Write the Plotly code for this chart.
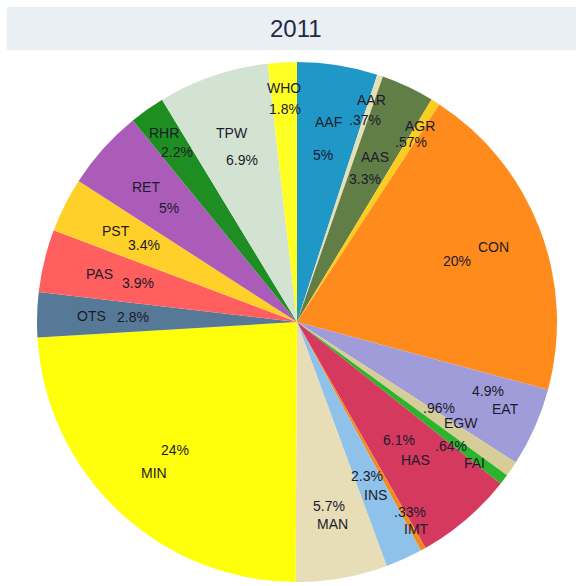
import math
import plotly.graph_objects as go

# Share of total by sector code, 2011 (percent)
sectors = ["AAF", "AAR", "AAS", "AGR", "CON", "EAT", "EGW", "FAI", "HAS", "IMT",
           "INS", "MAN", "MIN", "OTS", "PAS", "PST", "RET", "RHR", "TPW", "WHO"]
shares = [5, 0.37, 3.3, 0.57, 20, 4.9, 0.96, 0.64, 6.1, 0.33,
          2.3, 5.7, 24, 2.8, 3.9, 3.4, 5, 2.2, 6.9, 1.8]
colors = ["#1f98c8", "#e8dfb6", "#617e46", "#fbcd1f", "#fe8b1c", "#a09cda",
          "#d6cd97", "#2cb42c", "#d6395e", "#f28a22", "#8fc2ea", "#e7ddb6",
          "#ffff0c", "#557996", "#ff5f5f", "#ffcf2a", "#ab5cb8", "#1f8e22",
          "#d3e3d2", "#ffff24"]
title_text = "2011"

W, H = 576, 586
CX, CY, R = 297, 322, 260          # pie centre and radius in pixels
TEXT_COLOR = "#1b1b2b"
FONT = "Liberation Sans, Arial, Helvetica, sans-serif"

# Label placement: distance from the centre (fraction of the radius) for the
# sector name and for its percentage, along the slice's mid-angle.
LABEL_RADII = {
    "AAF": (0.78, 0.65), "AAR": (0.90, 0.82), "AAS": (0.70, 0.61),
    "AGR": (0.89, 0.82), "CON": (0.81, 0.66), "EAT": (0.87, 0.78),
    "EGW": (0.74, 0.64), "FAI": (0.87, 0.76), "HAS": (0.70, 0.60),
    "IMT": (0.92, 0.85), "INS": (0.73, 0.65), "MAN": (0.79, 0.72),
    "MIN": (0.80, 0.68), "OTS": (0.79, 0.63), "PAS": (0.78, 0.63),
    "PST": (0.78, 0.66), "RET": (0.78, 0.66), "RHR": (0.89, 0.80),
    "TPW": (0.77, 0.66), "WHO": (0.90, 0.82),
}
# Small angular nudges (degrees) for crowded labels: (name, percentage)
LABEL_NUDGE = {
    "EAT": (-1.4, -4.0),
    "EGW": (-2.8, -3.2),
    "FAI": (1.2, 1.5),
    "IMT": (-0.8, -1.6),
}


def fmt_pct(v):
    """Two significant digits, no leading zero (e.g. .37%, 3.3%, 20%)."""
    s = f"{v:.2g}"
    if s.startswith("0."):
        s = s[1:]
    return s + "%"


fig = go.Figure(go.Pie(
    labels=sectors,
    values=shares,
    marker=dict(colors=colors, line=dict(width=0)),
    sort=False,
    direction="clockwise",
    rotation=0,
    textinfo="none",
    hoverinfo="label+percent",
    showlegend=False,
    domain=dict(x=[(CX - R) / W, (CX + R) / W],
                y=[1 - (CY + R) / H, 1 - (CY - R) / H]),
))

total = sum(shares)
annotations = []
cum = 0.0
for name, v in zip(sectors, shares):
    mid = (cum + v / 2) / total * 2 * math.pi
    cum += v
    r_name, r_pct = LABEL_RADII[name]
    d_name, d_pct = LABEL_NUDGE.get(name, (0.0, 0.0))
    for txt, rr, dd in ((name, r_name, d_name), (fmt_pct(v), r_pct, d_pct)):
        ang = mid + math.radians(dd)
        px = CX + rr * R * math.sin(ang)
        py = CY - rr * R * math.cos(ang)
        annotations.append(dict(
            x=px / W, y=1 - py / H, xref="paper", yref="paper",
            xanchor="center", yanchor="middle",
            text=txt, showarrow=False,
            font=dict(size=14, color=TEXT_COLOR, family=FONT),
        ))

annotations.append(dict(
    x=296 / W, y=1 - 29 / H, xref="paper", yref="paper",
    xanchor="center", yanchor="middle",
    text=title_text, showarrow=False,
    font=dict(size=24, color="#1f2a44", family=FONT),
))

fig.update_layout(
    width=W, height=H,
    margin=dict(l=0, r=0, t=0, b=0),
    paper_bgcolor="white",
    plot_bgcolor="white",
    shapes=[dict(type="rect", xref="paper", yref="paper",
                 x0=7 / W, x1=1, y0=1 - 50 / H, y1=1 - 7 / H,
                 fillcolor="#e9eff3", line=dict(width=0), layer="below")],
    annotations=annotations,
)

fig.write_html("out.html")
